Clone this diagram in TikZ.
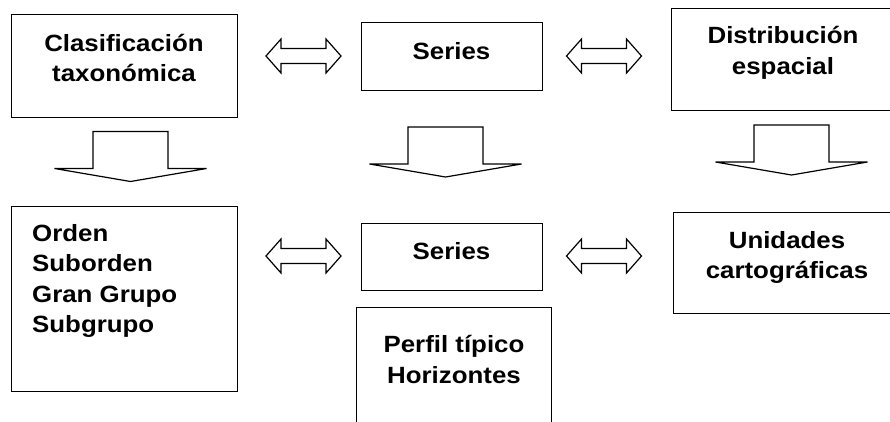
\documentclass[tikz,border=0pt]{standalone}
\usepackage{fontspec}
\newfontfamily\boxfont{Liberation Sans}[FakeStretch=1.1]
\tikzset{
  box/.style={draw, rectangle, line width=1.4pt, anchor=north west, inner sep=0pt},
  txt/.style={font=\boxfont\bfseries\fontsize{23.5}{30.5}\selectfont, align=center, inner sep=0pt},
  dblarrow/.pic={
    \path[draw, line width=1.2pt, line join=miter]
      (-37.5,0) -- ++(15,-17) -- ++(0,9.5) -- ++(45,0) -- ++(0,-9.5)
      -- ++(15,17) -- ++(-15,17) -- ++(0,-9.5) -- ++(-45,0) -- ++(0,9.5) -- cycle;
  },
  downarrow/.pic={
    \path[draw, line width=1.2pt, line join=miter]
      (-37.5,0) -- ++(75,0) -- ++(0,37) -- ++(38.5,0) -- (0,50)
      -- (-76,37) -- ++(38.5,0) -- cycle;
  }
}
\begin{document}
\begin{tikzpicture}[x=1pt, y=-1pt]
        \useasboundingbox (0,0) rectangle (890,421);
        \clip (0,0) rectangle (890,421);

        % top row
        \node[box, minimum width=226pt, minimum height=103pt] (clas) at (11,14) {};
        \node[box, minimum width=181pt, minimum height=68pt] (ser1) at (361,22) {};
        \node[box, minimum width=240pt, minimum height=102pt] (dist) at (671,8) {};
        \node[txt] (clastxt) at (124,58) {Clasificación\\taxonómica};
        \node[txt] (ser1txt) at (451.5,51) {Series};
        \node[txt] (disttxt) at (783,53) {Distribución\\espacial};

        % bottom row
        \node[box, minimum width=226pt, minimum height=185pt] (ord) at (11,206) {};
        \node[box, minimum width=181pt, minimum height=67pt] (ser2) at (361,223) {};
        \node[box, minimum width=195pt, minimum height=140pt] (perf) at (356,307) {};
        \node[box, minimum width=240pt, minimum height=101pt] (unid) at (673,212) {};
        \node[txt, align=left, anchor=west] (ordtxt) at (32,281) {Orden\\Suborden\\Gran Grupo\\Subgrupo};
        \node[txt] (ser2txt) at (451.5,251) {Series};
        \node[txt] (perftxt) at (454,359.5) {Perfil típico\\Horizontes};
        \node[txt] (unidtxt) at (787,257.5) {Unidades\\cartográficas};

        % arrows
        \pic at (303.5,56) {dblarrow};
        \pic at (604,56) {dblarrow};
        \pic at (303.5,256) {dblarrow};
        \pic at (604,256) {dblarrow};
        \pic at (130.5,131.5) {downarrow};
        \pic at (445.5,127) {downarrow};
        \pic at (791.5,125) {downarrow};
    \end{tikzpicture}
\end{document}
